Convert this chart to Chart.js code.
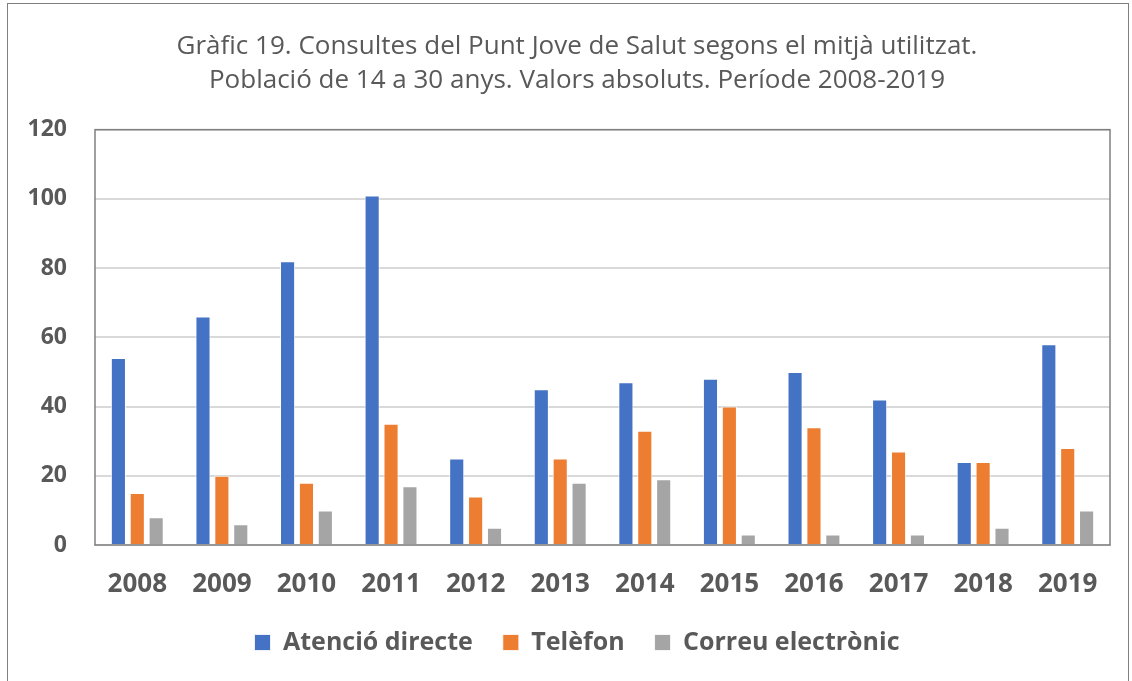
<!DOCTYPE html>
<html>
<head>
<meta charset="utf-8">
<script src="https://cdn.jsdelivr.net/npm/chart.js@4.4.0/dist/chart.umd.min.js"></script>
<style>
  html, body { margin: 0; padding: 0; background: #fff; }
  #wrap { position: relative; width: 1132px; height: 681px; box-sizing: border-box; }
  #frame { position: absolute; left: 7px; top: 3px; right: 3px; bottom: -2px; border: 1px solid #7f7f7f; pointer-events: none; }
  canvas { display: block; }
</style>
</head>
<body>
<div id="wrap">
  <canvas id="chart" width="1132" height="681"></canvas>
  <div id="frame"></div>
</div>
<script>
const years = ['2008', '2009', '2010', '2011', '2012', '2013', '2014', '2015', '2016', '2017', '2018', '2019'];
const atencioDirecte = [54, 66, 82, 101, 25, 45, 47, 48, 50, 42, 24, 58];
const telefon = [15, 20, 18, 35, 14, 25, 33, 40, 34, 27, 24, 28];
const correuElectronic = [8, 6, 10, 17, 5, 18, 19, 3, 3, 3, 5, 10];
const titleLines = [
    'Gràfic 19. Consultes del Punt Jove de Salut segons el mitjà utilitzat.',
    'Població de 14 a 30 anys. Valors absoluts. Període 2008-2019'
];

const textColor = '#595959';

// border around the plot area, like the original spreadsheet chart
const plotBorder = {
    id: 'plotBorder',
    afterDraw(chart) {
        const { ctx, chartArea } = chart;
        ctx.save();
        ctx.strokeStyle = '#808080';
        ctx.lineWidth = 1.5;
        ctx.strokeRect(chartArea.left, chartArea.top, chartArea.right - chartArea.left, chartArea.bottom - chartArea.top);
        ctx.restore();
    }
};

function makeDataset(label, data, color) {
    return {
        label: label,
        data: data,
        backgroundColor: color,
        borderColor: 'rgba(255,255,255,0.8)',
        borderWidth: 1,
        categoryPercentage: 0.67,
        barPercentage: 0.8
    };
}

new Chart(document.getElementById('chart'), {
    type: 'bar',
    data: {
        labels: years,
        datasets: [
            makeDataset('Atenció directe', atencioDirecte, '#4472C4'),
            makeDataset('Telèfon', telefon, '#ED7D31'),
            makeDataset('Correu electrònic', correuElectronic, '#A5A5A5')
        ]
    },
    options: {
        responsive: false,
        animation: false,
        layout: { padding: { left: 22, right: 0, top: 11, bottom: 16 } },
        plugins: {
            title: {
                display: true,
                text: titleLines,
                color: textColor,
                font: { family: 'Open Sans', size: 26, weight: 'normal', lineHeight: 1.32 },
                padding: { top: 18, bottom: 32 }
            },
            legend: {
                position: 'bottom',
                labels: {
                    color: textColor,
                    font: { family: 'Open Sans', size: 25, weight: 'bold', lineHeight: 1.0 },
                    boxWidth: 16,
                    boxHeight: 16,
                    padding: 30
                }
            },
            tooltip: { enabled: false }
        },
        scales: {
            x: {
                afterFit(scale) { scale.height = 55; },
                grid: { display: false },
                border: { color: '#d9d9d9', width: 2 },
                ticks: {
                    color: textColor,
                    font: { family: 'Open Sans', size: 26, weight: 'bold', lineHeight: 1.0 },
                    padding: 19
                }
            },
            y: {
                min: 0,
                max: 120,
                afterFit(scale) { scale.width = 73; },
                grid: { color: '#d9d9d9', lineWidth: 2, drawTicks: false },
                border: { display: false },
                ticks: {
                    stepSize: 20,
                    color: textColor,
                    font: { family: 'Open Sans', size: 23, weight: 'bold' },
                    padding: 28
                }
            },
            // empty spacer on the right so the plot ends where the original does
            yRight: {
                position: 'right',
                afterFit(scale) { scale.width = 22; },
                grid: { display: false },
                border: { display: false },
                ticks: { display: false }
            }
        }
    },
    plugins: [plotBorder]
});
</script>
</body>
</html>
